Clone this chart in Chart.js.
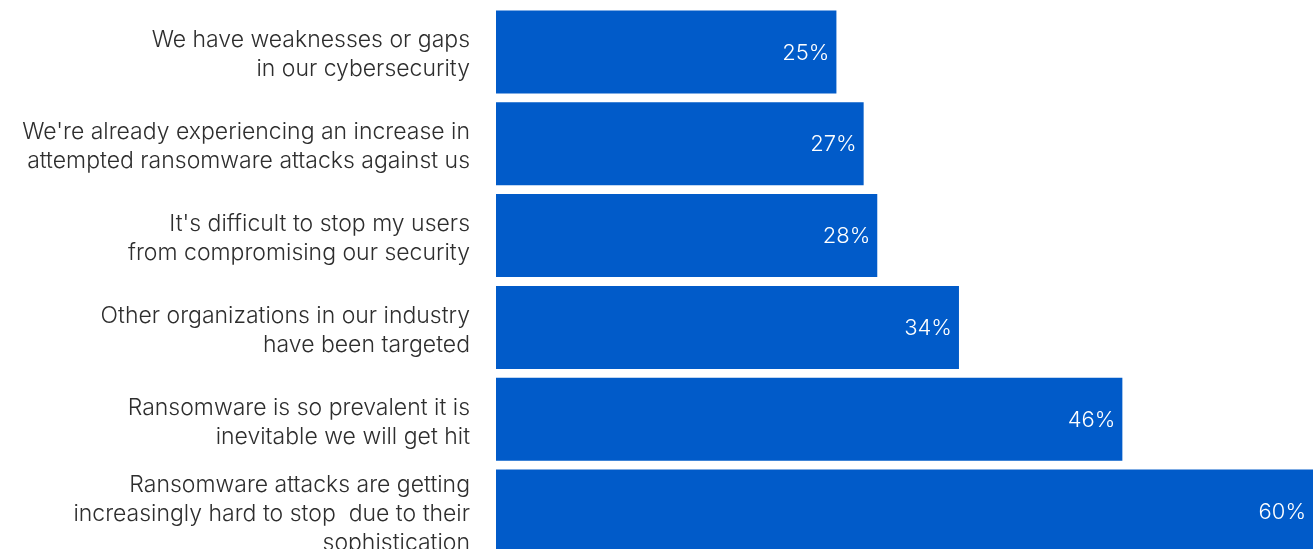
<!DOCTYPE html>
<html>
<head>
<meta charset="utf-8">
<script src="https://cdn.jsdelivr.net/npm/chart.js@4/dist/chart.umd.min.js"></script>
<style>
  html, body { margin: 0; padding: 0; background: #ffffff; overflow: hidden; }
  #wrap { width: 1316px; height: 549px; overflow: hidden; }
  canvas { display: block; }
</style>
</head>
<body>
<div id="wrap"><canvas id="c" width="1316" height="558"></canvas></div>
<script>
// Reasons respondents expect to be hit by ransomware (percent of respondents)
const categories = [
  ["We have weaknesses or gaps", "in our cybersecurity"],
  ["We're already experiencing an increase in", "attempted ransomware attacks against us"],
  ["It's difficult to stop my users", "from compromising our security"],
  ["Other organizations in our industry", "have been targeted"],
  ["Ransomware is so prevalent it is", "inevitable we will get hit"],
  ["Ransomware attacks are getting", "increasingly hard to stop  due to their", "sophistication"]
];
const values = [25, 27, 28, 34, 46, 60];
const valueSuffix = "%";

const BAR_BLUE = "#015BC9";
const LABEL_FONT = "Inter";

// Writes each value just inside the right end of its bar
const barValueLabels = {
  id: "barValueLabels",
  afterDatasetsDraw(chart) {
    const ctx = chart.ctx;
    const meta = chart.getDatasetMeta(0);
    ctx.save();
    ctx.fillStyle = "#ffffff";
    ctx.font = "300 22px " + LABEL_FONT;
    ctx.textAlign = "right";
    ctx.textBaseline = "middle";
    meta.data.forEach((bar, i) => {
      ctx.fillText(values[i] + valueSuffix, bar.x - 7, bar.y + 1);
    });
    ctx.restore();
  }
};

new Chart(document.getElementById("c"), {
  type: "bar",
  data: {
    labels: categories,
    datasets: [{
      data: values,
      backgroundColor: BAR_BLUE,
      borderWidth: 0,
      barPercentage: 0.904,
      categoryPercentage: 1
    }]
  },
  options: {
    indexAxis: "y",
    responsive: false,
    animation: false,
    devicePixelRatio: 1,
    layout: { padding: { top: 6, bottom: 1, right: 3, left: 0 } },
    plugins: {
      legend: { display: false },
      tooltip: { enabled: false }
    },
    scales: {
      x: {
        display: false,
        min: 0,
        max: 60
      },
      y: {
        grid: { display: false, drawTicks: false },
        border: { display: false },
        afterFit(scale) {
          scale.width = 496;
          scale.paddingTop = 0;
          scale.paddingBottom = 0;
        },
        ticks: {
          color: "#2e2e2e",
          padding: 26,
          labelOffset: 3,
          font: { family: LABEL_FONT, size: 23, weight: 300, lineHeight: 1.26 }
        }
      }
    }
  },
  plugins: [barValueLabels]
});
</script>
</body>
</html>
